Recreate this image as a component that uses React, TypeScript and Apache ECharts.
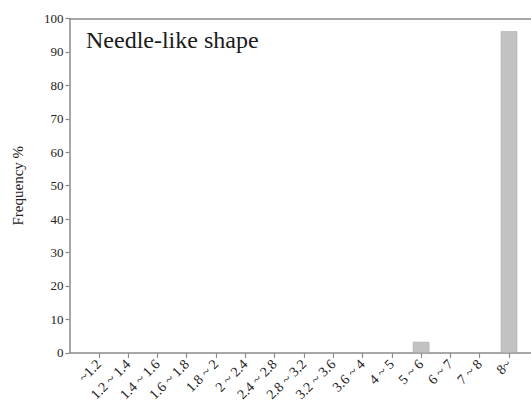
import React, { useEffect, useRef } from "react";
import * as echarts from "echarts";

const categories = [
  "~1.2", "1.2 ~ 1.4", "1.4 ~ 1.6", "1.6 ~ 1.8", "1.8 ~ 2", "2 ~ 2.4", "2.4 ~ 2.8",
  "2.8 ~ 3.2", "3.2 ~ 3.6", "3.6 ~ 4", "4 ~ 5", "5 ~ 6", "6 ~ 7", "7 ~ 8", "8~",
];
const frequency = [0, 0, 0, 0, 0, 0, 0, 0, 0, 0, 0, 3.3, 0, 0, 96.2];
const yTicks = [0, 10, 20, 30, 40, 50, 60, 70, 80, 90, 100];
const titleText = "Needle-like shape";
const yName = "Frequency %";

const FONT = "Liberation Serif";
const AXIS = "#8a8a8a";

export default function App() {
  const ref = useRef<HTMLDivElement>(null);
  useEffect(() => {
    if (!ref.current) return;
    const chart = echarts.init(ref.current, null, { renderer: "svg" });
    chart.setOption({
      animation: false,
      backgroundColor: "#ffffff",
      textStyle: { fontFamily: FONT },
      title: {
        text: titleText,
        left: 81,
        top: 23,
        textStyle: { fontFamily: FONT, fontSize: 24, fontWeight: "normal", color: "#1a1a1a" },
      },
      grid: { left: 69.5, right: 0, top: 18.5, bottom: 50 },
      xAxis: [
        {
          type: "value",
          min: 0,
          max: 15.75,
          interval: 1,
          splitLine: { show: false },
          axisLine: { show: true, lineStyle: { color: AXIS, width: 1.5 } },
          axisTick: { show: true, length: 5, lineStyle: { color: AXIS, width: 1.2 } },
          axisLabel: {
            rotate: 45,
            margin: 9,
            showMinLabel: false,
            showMaxLabel: false,
            fontFamily: FONT,
            fontSize: 14,
            color: "#222",
            formatter: (v: number) => categories[Math.round(v) - 1] ?? "",
          },
        },
        {
          type: "value",
          position: "top",
          min: 0,
          max: 15.75,
          splitLine: { show: false },
          axisLine: { show: true, lineStyle: { color: AXIS, width: 1.5 } },
          axisTick: { show: false },
          axisLabel: { show: false },
        },
      ],
      yAxis: {
        type: "value",
        min: yTicks[0],
        max: yTicks[yTicks.length - 1],
        interval: 10,
        name: yName,
        nameLocation: "middle",
        nameGap: 44,
        nameTextStyle: { fontFamily: FONT, fontSize: 15, color: "#222" },
        splitLine: { show: false },
        axisLine: { show: true, lineStyle: { color: AXIS, width: 1.5 } },
        axisTick: { show: true, length: 4, lineStyle: { color: AXIS, width: 1.2 } },
        axisLabel: { fontFamily: FONT, fontSize: 13, color: "#222", margin: 6 },
      },
      series: [
        {
          type: "bar",
          xAxisIndex: 0,
          barWidth: 16.5,
          data: frequency.map((v, i) => [i + 1, v]),
          itemStyle: { color: "#c2c2c2", borderColor: "#aaaaaa", borderWidth: 0.6 },
        },
      ],
    });
    return () => chart.dispose();
  }, []);
  return (
    <div
      ref={ref}
      style={{ position: "absolute", left: 0, top: 0, width: 531, height: 404 }}
    />
  );
}
